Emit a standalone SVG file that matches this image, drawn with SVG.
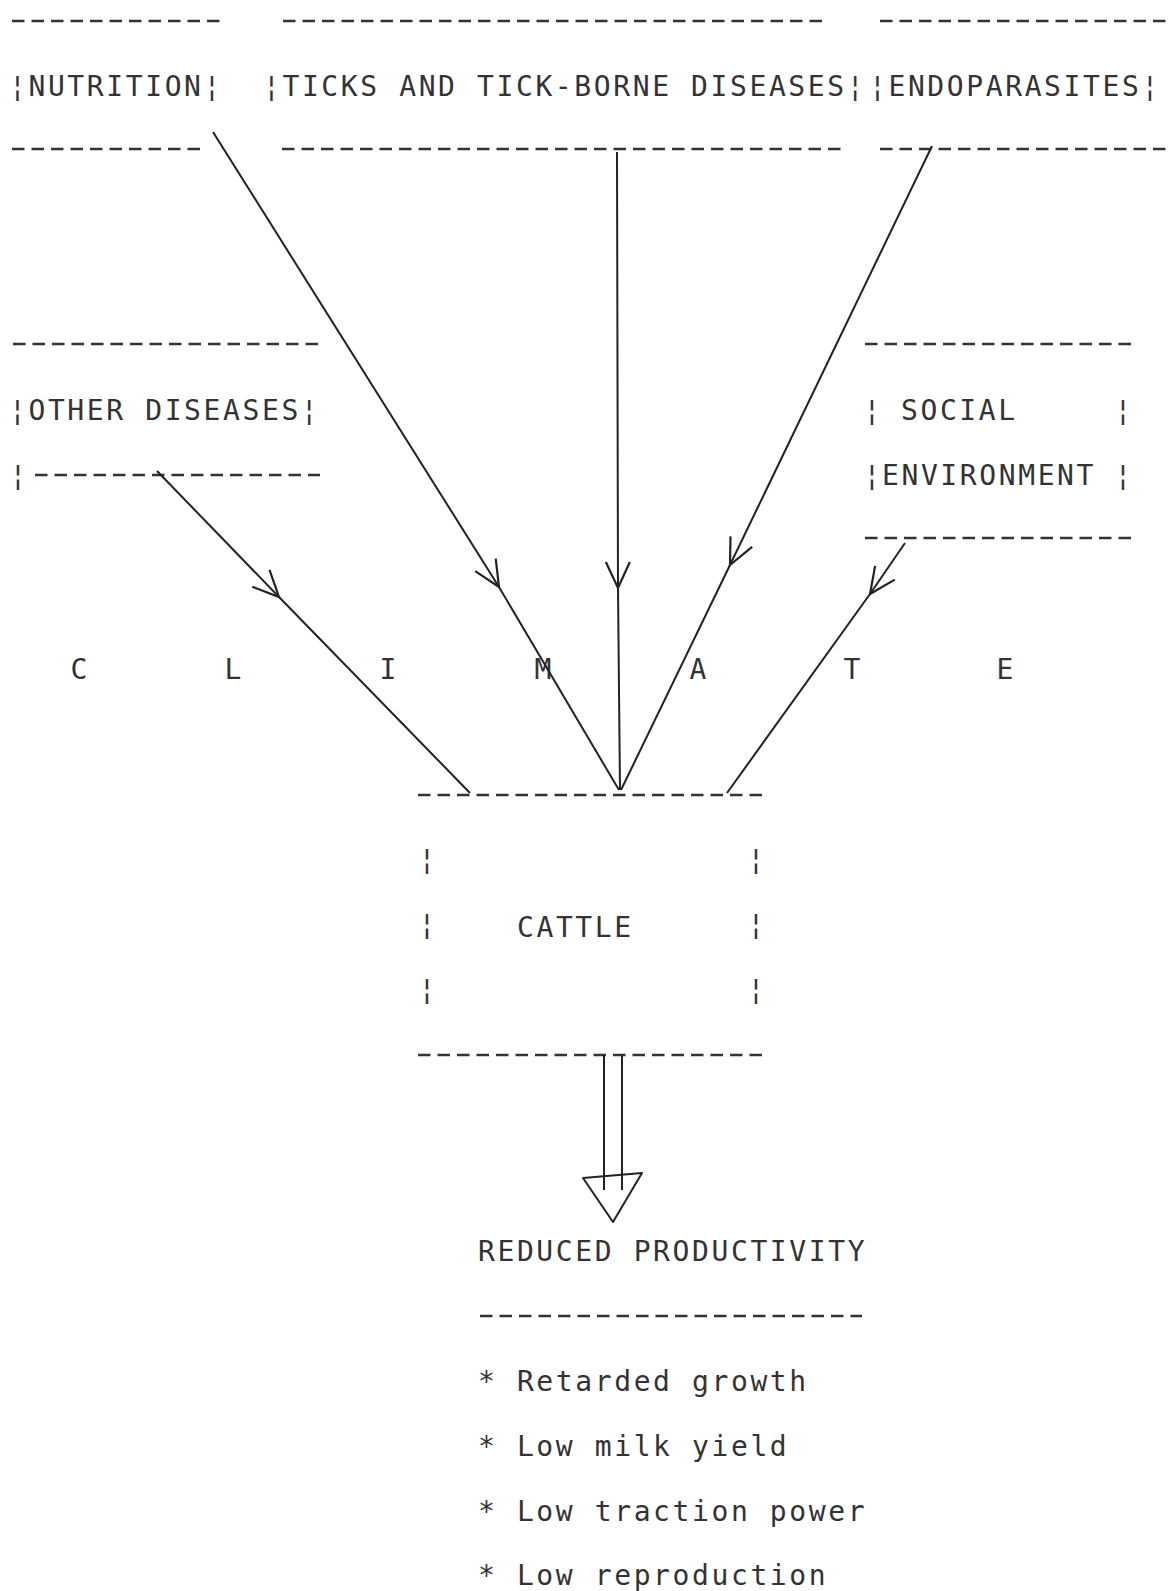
<svg xmlns="http://www.w3.org/2000/svg" width="1170" height="1591" viewBox="0 0 1170 1591">
<defs>
<style>
text { font-family: "DejaVu Sans Mono", "Liberation Mono", monospace; font-size: 28px; fill: #333; letter-spacing: 2.6px; }
.mid { text-anchor: middle; letter-spacing: 0px; }
.dash { stroke: #333; stroke-width: 2.6; stroke-dasharray: 12.5 7; fill: none; }
.conn { stroke: #222; stroke-width: 2; fill: none; marker-mid: url(#chev); }
.plain { stroke: #222; stroke-width: 2; fill: none; }
</style>
<marker id="chev" markerUnits="userSpaceOnUse" viewBox="0 0 60 60" markerWidth="60" markerHeight="60" refX="30" refY="30" orient="auto" overflow="visible">
<path d="M4,18 L30,30 L4,42" fill="none" stroke="#222" stroke-width="2.2"/>
</marker>
</defs>
<rect width="1170" height="1591" fill="#fff"/>

<g id="nutrition">
<line class="dash" x1="12" y1="21" x2="220" y2="21"/>
<text x="9" y="96">¦NUTRITION¦</text>
<line class="dash" x1="12" y1="149" x2="201" y2="149"/>
</g>

<g id="ticks">
<line class="dash" x1="283" y1="21" x2="822" y2="21"/>
<text x="263" y="96">¦TICKS AND TICK-BORNE DISEASES¦</text>
<line class="dash" x1="282" y1="149" x2="841" y2="149"/>
</g>

<g id="endoparasites">
<line class="dash" x1="880" y1="21" x2="1166" y2="21"/>
<text x="869" y="96">¦ENDOPARASITES¦</text>
<line class="dash" x1="880" y1="149" x2="1166" y2="149"/>
</g>

<g id="other-diseases">
<line class="dash" x1="13" y1="344" x2="318" y2="344"/>
<text x="9" y="420">¦OTHER DISEASES¦</text>
<text x="18" y="485" class="mid">¦</text>
<line class="dash" x1="35" y1="475" x2="320" y2="475"/>
</g>

<g id="social-environment">
<line class="dash" x1="865" y1="344" x2="1131" y2="344"/>
<text x="872" y="420" class="mid">¦</text>
<text x="901" y="420">SOCIAL</text>
<text x="1123" y="420" class="mid">¦</text>
<text x="872" y="485" class="mid">¦</text>
<text x="882" y="485">ENVIRONMENT</text>
<text x="1123" y="485" class="mid">¦</text>
<line class="dash" x1="865" y1="538" x2="1131" y2="538"/>
</g>

<g id="climate">
<text x="79" y="679" class="mid">C</text>
<text x="233" y="679" class="mid">L</text>
<text x="388" y="679" class="mid">I</text>
<text x="543" y="679" class="mid">M</text>
<text x="698" y="679" class="mid">A</text>
<text x="852" y="679" class="mid">T</text>
<text x="1005" y="679" class="mid">E</text>
</g>

<g id="cattle">
<line class="dash" x1="418" y1="795" x2="762" y2="795"/>
<text x="427" y="869" class="mid">¦</text>
<text x="756" y="869" class="mid">¦</text>
<text x="427" y="934" class="mid">¦</text>
<text x="517" y="937">CATTLE</text>
<text x="756" y="934" class="mid">¦</text>
<text x="427" y="999" class="mid">¦</text>
<text x="756" y="999" class="mid">¦</text>
<line class="dash" x1="418" y1="1055" x2="762" y2="1055"/>
</g>

<g id="reduced-productivity">
<text x="478" y="1261">REDUCED PRODUCTIVITY</text>
<line class="dash" x1="480" y1="1316" x2="862" y2="1316"/>
<text x="478" y="1391">* Retarded growth</text>
<text x="478" y="1456">* Low milk yield</text>
<text x="478" y="1521">* Low traction power</text>
<text x="478" y="1585">* Low reproduction</text>
</g>

<g id="connectors">
<polyline class="conn" points="157,471 279,597 470,793"/>
<polyline class="conn" points="213,132 499,587 619,790"/>
<polyline class="conn" points="617,152 618,588 620,790"/>
<polyline class="conn" points="932,146 730,565 621,790"/>
<polyline class="conn" points="905,543 870,594 727,793"/>
<line class="plain" x1="604" y1="1055" x2="604" y2="1190"/>
<line class="plain" x1="622" y1="1055" x2="622" y2="1190"/>
<polygon class="plain" points="583,1178 642,1173 613,1222" stroke-linejoin="round"/>
</g>
</svg>
